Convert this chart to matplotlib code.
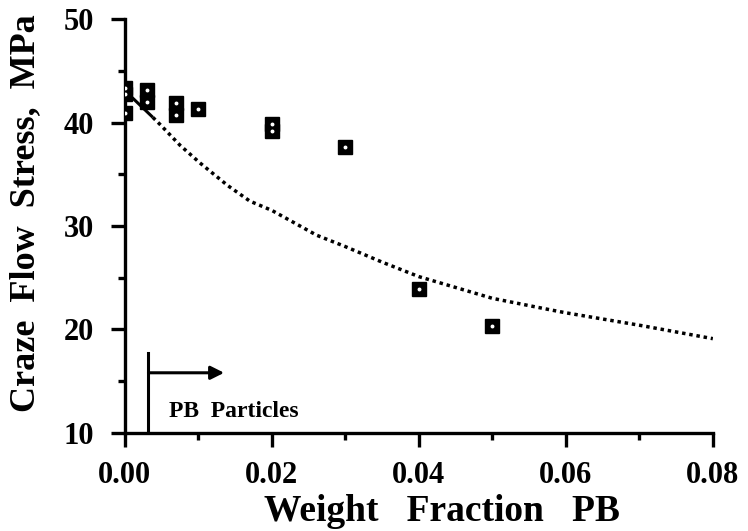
import matplotlib
matplotlib.use("Agg")
import matplotlib.pyplot as plt
from matplotlib.ticker import MultipleLocator, FormatStrFormatter

# Data
x_data = [0.0, 0.0, 0.0, 0.003, 0.003, 0.007, 0.007, 0.010, 0.020, 0.020, 0.030, 0.040, 0.050]
y_data = [43.3, 42.8, 40.9, 43.1, 42.0, 41.9, 40.7, 41.3, 39.9, 39.2, 37.6, 23.9, 20.3]

curve_x = [0.0, 0.001, 0.0038, 0.0048, 0.0075, 0.0102, 0.014, 0.017, 0.020, 0.0261, 0.030,
           0.035, 0.040, 0.050, 0.0578, 0.060, 0.070, 0.080]
curve_y = [43.2, 42.4, 40.5, 39.8, 37.8, 36.1, 33.9, 32.4, 31.5, 29.1, 28.0,
           26.5, 25.1, 23.0, 21.9, 21.6, 20.4, 19.1]
solid_n = 3  # initial solid segment of the curve

particle_x = 0.0032
particle_line_top = 17.7
arrow_y = 15.8
arrow_end_x = 0.0135

x_ticks = [0.00, 0.02, 0.04, 0.06, 0.08]
y_ticks = [10, 20, 30, 40, 50]

serif = ["Liberation Serif", "DejaVu Serif"]
plt.rcParams["font.family"] = serif

fig = plt.figure(figsize=(7.48, 5.31), dpi=100)
ax = fig.add_axes([0.167, 0.185, 0.786, 0.779])

ax.plot(curve_x[:solid_n], curve_y[:solid_n], color="black", lw=2.2, solid_capstyle="butt")
ax.plot(curve_x[solid_n - 1:], curve_y[solid_n - 1:], color="black", lw=2.5,
        linestyle=(0, (1.0, 1.1)))

ax.plot(x_data, y_data, linestyle="none", marker="s", markersize=9.5,
        markerfacecolor="black", markeredgecolor="black", zorder=5)
ax.plot(x_data, y_data, linestyle="none", marker="o", markersize=1.8,
        markerfacecolor="white", markeredgecolor="white", zorder=6)

ax.plot([particle_x, particle_x], [10, particle_line_top], color="black", lw=2.2)
ax.annotate("", xy=(arrow_end_x, arrow_y), xytext=(particle_x, arrow_y),
            arrowprops=dict(arrowstyle="-|>", color="black", lw=2.2,
                            mutation_scale=20, shrinkA=0, shrinkB=0))
ax.text(particle_x + 0.0028, 11.0, "PB  Particles", fontsize=17, fontweight="bold",
        ha="left", va="bottom")

ax.set_xlim(0, 0.08)
ax.set_ylim(10, 50)
ax.set_xticks(x_ticks)
ax.set_yticks(y_ticks)
ax.xaxis.set_major_formatter(FormatStrFormatter("%.2f"))
ax.xaxis.set_minor_locator(MultipleLocator(0.01))
ax.yaxis.set_minor_locator(MultipleLocator(5))

for s in ["top", "right"]:
    ax.spines[s].set_visible(False)
for s in ["left", "bottom"]:
    ax.spines[s].set_linewidth(2.4)

ax.tick_params(which="major", direction="out", length=10, width=2.4, labelsize=22)
ax.tick_params(axis="x", which="major", pad=10)
ax.tick_params(axis="y", which="major", pad=12)
ax.tick_params(which="minor", direction="out", length=5, width=2.4)
for lab in ax.get_xticklabels() + ax.get_yticklabels():
    lab.set_fontweight("bold")

ax.set_xlabel("Weight   Fraction   PB", fontsize=27, fontweight="bold")
ax.set_ylabel("Craze  Flow  Stress,  MPa", fontsize=26, fontweight="bold")
ax.xaxis.set_label_coords(0.54, -0.148)
ax.yaxis.set_label_coords(-0.14, 0.53)

fig.savefig("out.png", dpi=100)
